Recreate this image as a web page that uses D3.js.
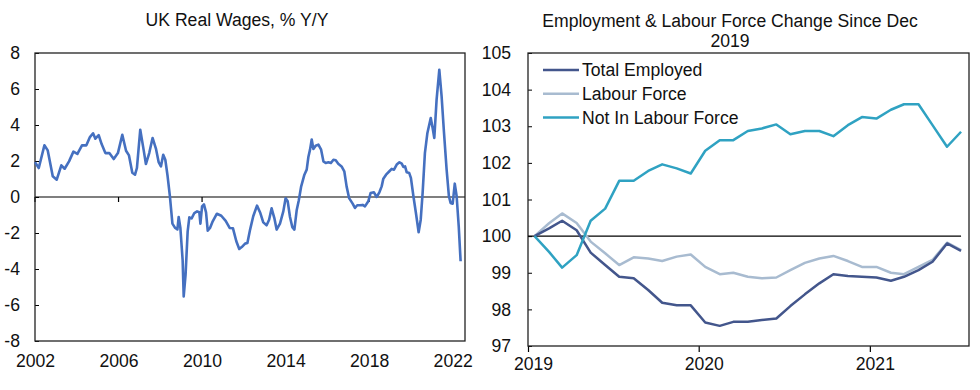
<!DOCTYPE html>
<html><head><meta charset="utf-8">
<script src="https://cdn.jsdelivr.net/npm/d3@7/dist/d3.min.js"></script>
<style>
html,body{margin:0;padding:0;background:#fff;}
svg text{font-family:"Liberation Sans",Arial,sans-serif;fill:#111;}
</style></head><body>
<svg id="c" width="980" height="390"></svg>
<script>
// ---- Left chart: UK Real Wages, % Y/Y ----
const wageYears = [2002.00,2002.18,2002.45,2002.61,2002.85,2003.04,2003.26,2003.42,2003.63,2003.84,2004.03,2004.25,2004.46,2004.63,2004.78,2004.89,2005.05,2005.19,2005.37,2005.56,2005.77,2005.97,2006.18,2006.36,2006.50,2006.66,2006.79,2006.88,2007.04,2007.20,2007.31,2007.47,2007.63,2007.79,2007.92,2008.03,2008.14,2008.24,2008.35,2008.46,2008.58,2008.70,2008.82,2008.88,2008.96,2009.07,2009.12,2009.21,2009.31,2009.39,2009.50,2009.63,2009.76,2009.87,2009.92,2010.00,2010.09,2010.19,2010.27,2010.38,2010.51,2010.71,2010.92,2011.13,2011.32,2011.48,2011.64,2011.78,2011.90,2012.06,2012.17,2012.30,2012.45,2012.63,2012.79,2012.93,2013.09,2013.21,2013.33,2013.46,2013.57,2013.73,2013.89,2014.00,2014.10,2014.21,2014.32,2014.42,2014.53,2014.63,2014.74,2014.90,2015.01,2015.09,2015.17,2015.25,2015.33,2015.44,2015.57,2015.70,2015.81,2015.92,2016.05,2016.17,2016.29,2016.40,2016.52,2016.68,2016.81,2016.92,2017.04,2017.21,2017.32,2017.43,2017.56,2017.69,2017.80,2017.96,2018.07,2018.23,2018.36,2018.49,2018.60,2018.68,2018.81,2018.97,2019.08,2019.19,2019.32,2019.45,2019.56,2019.64,2019.72,2019.80,2019.92,2020.00,2020.12,2020.24,2020.37,2020.47,2020.56,2020.67,2020.79,2020.95,2021.04,2021.12,2021.23,2021.36,2021.47,2021.58,2021.71,2021.82,2021.90,2022.00,2022.10,2022.19,2022.29,2022.38];
const wageValues = [1.94,1.61,2.87,2.59,1.15,0.96,1.76,1.57,1.98,2.52,2.39,2.87,2.87,3.33,3.54,3.24,3.44,2.94,2.44,2.44,2.11,2.44,3.46,2.57,2.31,1.35,1.24,1.61,3.74,2.63,1.83,2.44,3.28,2.69,1.94,1.70,2.35,2.07,1.15,0.04,-1.48,-1.70,-1.80,-1.11,-1.70,-3.52,-5.52,-4.31,-1.91,-1.13,-1.19,-0.89,-0.80,-0.85,-1.48,-0.52,-0.41,-0.85,-1.87,-1.72,-1.35,-0.93,-1.04,-1.33,-1.72,-1.74,-2.46,-2.89,-2.78,-2.59,-2.56,-1.81,-1.07,-0.48,-0.89,-1.41,-1.57,-1.26,-0.63,-1.17,-1.81,-1.48,-0.80,-0.07,-0.24,-1.11,-1.67,-1.81,-0.74,-0.19,0.56,1.24,1.52,2.22,2.63,3.19,2.67,2.85,2.91,2.63,1.98,1.89,1.93,1.89,2.07,2.04,1.85,1.70,1.43,0.59,-0.06,-0.37,-0.61,-0.46,-0.46,-0.44,-0.52,-0.24,0.22,0.26,0.00,0.26,0.59,1.02,1.24,1.43,1.56,1.52,1.80,1.93,1.85,1.67,1.70,1.37,1.33,1.06,0.04,-0.89,-1.96,-1.26,0.22,2.44,3.56,4.39,3.83,3.28,5.41,7.07,5.59,3.65,1.52,0.04,-0.33,-0.37,0.74,0.04,-1.63,-3.57];
const wageYTicks = [-8,-6,-4,-2,0,2,4,6,8];
const wageXTicks = [2002,2006,2010,2014,2018,2022];

// ---- Right chart: Employment & Labour Force (index) ----
const empMonths = d3.range(0,31).map(i => new Date(2019, i, 15));
const totalEmployed = [100,100.21,100.42,100.16,99.55,99.21,98.89,98.85,98.53,98.18,98.11,98.11,97.64,97.55,97.66,97.66,97.71,97.75,98.09,98.41,98.71,98.96,98.91,98.89,98.87,98.78,98.89,99.07,99.30,99.80,99.60];
const labourForce = [100,100.35,100.62,100.36,99.85,99.53,99.21,99.42,99.39,99.32,99.44,99.50,99.16,98.96,99.00,98.89,98.85,98.87,99.07,99.27,99.39,99.46,99.32,99.16,99.16,99.00,98.96,99.16,99.35,99.82,99.62];
const notInLabourForce = [100,99.57,99.14,99.48,100.42,100.75,101.51,101.51,101.78,101.96,101.85,101.71,102.33,102.62,102.62,102.87,102.94,103.05,102.78,102.87,102.87,102.73,103.03,103.25,103.21,103.45,103.60,103.60,103.03,102.44,102.85];
const empSeriesNames = ["Total Employed","Labour Force","Not In Labour Force"];
const empYTicks = [97,98,99,100,101,102,103,104,105];
const empXTicks = [new Date(2019,0,1), new Date(2020,0,1), new Date(2021,0,1)];

const svg = d3.select("#c");
const FS = "17.6px";
const hy = d => String(d); // plain hyphen-minus like the reference

// ===== Left chart =====
{
  const L = 35, R = 465, T = 53, B = 341;
  const x = d3.scaleLinear().domain([2002, 2022.59]).range([L, R]);
  const y = d3.scaleLinear().domain([-8, 8]).range([B, T]);
  const g = svg.append("g");

  g.append("text").attr("x", 237).attr("y", 26).attr("text-anchor","middle")
    .style("font-size", FS).text("UK Real Wages, % Y/Y");

  const ya = d3.axisLeft(y).tickValues(wageYTicks).tickSize(-4).tickFormat(hy);
  const yg = g.append("g").attr("transform", `translate(${L},0)`).call(ya);
  yg.select(".domain").remove();
  yg.selectAll("line").attr("stroke","#000");
  yg.selectAll("text").style("font-size", FS).attr("x", -15);

  const xa = d3.axisBottom(x).tickValues(wageXTicks).tickSize(0).tickPadding(14).tickFormat(hy);
  const xg = g.append("g").attr("transform", `translate(0,${B})`).call(xa);
  xg.select(".domain").remove();
  xg.selectAll("text").style("font-size", FS);

  g.append("line").attr("x1", L).attr("x2", R).attr("y1", y(0)).attr("y2", y(0)).attr("stroke","#000").attr("stroke-width",1.2);
  g.selectAll(".zt").data(wageXTicks).enter().append("line")
    .attr("x1", d => x(d)).attr("x2", d => x(d)).attr("y1", y(0)).attr("y2", y(0)+5)
    .attr("stroke","#000").attr("stroke-width",1.2);

  g.append("rect").attr("x", L).attr("y", T).attr("width", R-L).attr("height", B-T)
    .attr("fill","none").attr("stroke","#222").attr("stroke-width",1.3);

  const line = d3.line().x((d,i) => x(wageYears[i])).y(d => y(d));
  g.append("path").datum(wageValues).attr("d", line).attr("fill","none")
    .attr("stroke","#4570C0").attr("stroke-width",2.6).attr("stroke-linejoin","round");
}

// ===== Right chart =====
{
  const L = 528, R = 969, T = 53, B = 346;
  const x = d3.scaleTime().domain([new Date(2019,0,1), new Date(2021,7,1)]).range([L, R]);
  const y = d3.scaleLinear().domain([97, 105]).range([B, T]);
  const g = svg.append("g");

  g.append("text").attr("x", 730).attr("y", 27).attr("text-anchor","middle")
    .style("font-size", FS).text("Employment & Labour Force Change Since Dec");
  g.append("text").attr("x", 730).attr("y", 47).attr("text-anchor","middle")
    .style("font-size", FS).text("2019");

  const ya = d3.axisLeft(y).tickValues(empYTicks).tickSize(-4).tickFormat(hy);
  const yg = g.append("g").attr("transform", `translate(${L},0)`).call(ya);
  yg.select(".domain").remove();
  yg.selectAll("line").attr("stroke","#000");
  yg.selectAll("text").style("font-size", FS).attr("x", -17);

  const xa = d3.axisBottom(x).tickValues(empXTicks).tickSize(6).tickPadding(6).tickFormat(d3.timeFormat("%Y"));
  const xg = g.append("g").attr("transform", `translate(0,${B})`).call(xa);
  xg.select(".domain").remove();
  xg.selectAll("line").attr("stroke","#000").attr("stroke-width",1.2);
  xg.selectAll("text").style("font-size", FS).attr("dx", 5);

  g.append("rect").attr("x", L).attr("y", T).attr("width", R-L).attr("height", B-T)
    .attr("fill","none").attr("stroke","#222").attr("stroke-width",1.3);

  g.append("line").attr("x1", L).attr("x2", x(empMonths[empMonths.length-1]))
    .attr("y1", y(100)).attr("y2", y(100)).attr("stroke","#000").attr("stroke-width",1.2);

  const colors = ["#43568C","#A8BBD0","#2FA2C2"];
  const series = [totalEmployed, labourForce, notInLabourForce];
  const line = d3.line().x((d,i) => x(empMonths[i])).y(d => y(d));
  [1,0,2].forEach(k => {
    g.append("path").datum(series[k]).attr("d", line).attr("fill","none")
      .attr("stroke", colors[k]).attr("stroke-width",2.5).attr("stroke-linejoin","round");
  });

  const lg = g.append("g");
  empSeriesNames.forEach((n,k) => {
    const yy = 70 + k*23.8;
    lg.append("line").attr("x1",543).attr("x2",579).attr("y1",yy).attr("y2",yy)
      .attr("stroke",colors[k]).attr("stroke-width",2.5);
    lg.append("text").attr("x",582).attr("y",yy).attr("dy","0.35em").style("font-size",FS).text(n);
  });
}
</script>
</body></html>
